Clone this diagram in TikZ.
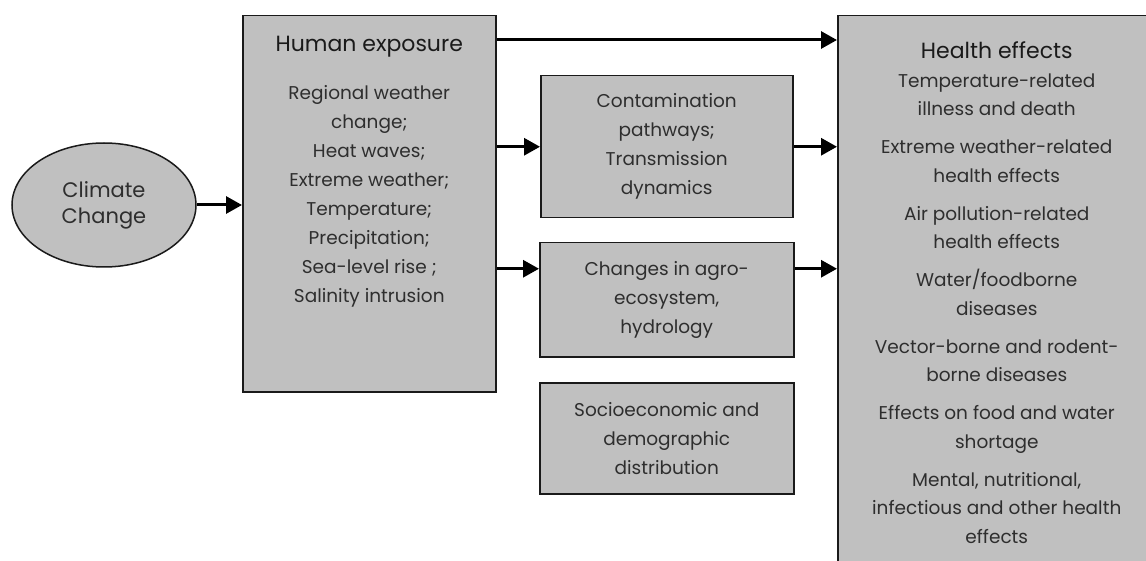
\documentclass[tikz,border=0pt]{standalone}
\usepackage{fontspec}
\setmainfont{Poppins}
\usetikzlibrary{arrows.meta,positioning,shapes.geometric}
\definecolor{ink}{HTML}{1A1A1A}
\definecolor{boxgray}{HTML}{C0C0C0}
\definecolor{textgray}{HTML}{2E2E2E}
\tikzset{
  every node/.style={text=textgray},
  box/.style={draw=ink, line width=1.5pt, fill=boxgray, align=center, inner sep=0pt, font=\fontsize{18.5}{29}\selectfont},
  oval/.style={box, ellipse, minimum width=184pt, minimum height=124pt, font=\fontsize{21}{26}\selectfont},
  boxtext/.style={align=center, inner sep=0pt, font=\fontsize{18.5}{29}\selectfont},
  arrow/.style={-{Triangle[length=16pt,width=17pt]}, line width=3pt, draw=black},
}
\begin{document}
\begin{tikzpicture}[x=1pt, y=-1pt]
\useasboundingbox[fill=white] (0,0) rectangle (1146,561);
% nodes
\node[oval] (cc) at (104,205) {Climate\\Change};
\node[box, anchor=north west, minimum width=253pt, minimum height=376pt] (hum) at (242,15) {};
\node[boxtext, anchor=north] (humtxt) at ([yshift=-21pt]hum.north) {{\fontsize{22}{26}\selectfont\color{ink}Human exposure}\\[19pt]
  Regional weather\\change;\\Heat waves;\\Extreme weather;\\Temperature;\\Precipitation;\\Sea-level rise ;\\Salinity intrusion};
\node[box, anchor=north west, minimum width=252pt, minimum height=142pt] (con) at (540,75) {Contamination\\pathways;\\Transmission\\dynamics};
\node[box, anchor=north west, minimum width=254pt, minimum height=114pt] (chg) at (539,242) {Changes in agro-\\ecosystem,\\hydrology};
\node[box, anchor=north west, minimum width=254pt, minimum height=111pt] (soc) at (539,382) {Socioeconomic and\\demographic\\distribution};
\node[box, anchor=north west, minimum width=318pt, minimum height=554pt, font=\fontsize{18.5}{28.5}\selectfont] (hl) at (837,15) {{\fontsize{22}{26}\selectfont\color{ink}Health effects}\\[0pt]
  Temperature-related\\illness and death\\[9.5pt]
  Extreme weather-related\\health effects\\[9.5pt]
  Air pollution-related\\health effects\\[9.5pt]
  Water/foodborne\\diseases\\[9.5pt]
  Vector-borne and rodent-\\borne diseases\\[9.5pt]
  Effects on food and water\\shortage\\[9.5pt]
  Mental, nutritional,\\infectious and other health\\effects};
% connectors
\coordinate (top) at ([yshift=-25pt]hum.north east);
\coordinate (mid) at ([yshift=31pt]chg.west);
\draw[arrow] (cc.east) -- (cc.east -| hum.west);
\draw[arrow] (top) -- (top -| hl.west);
\draw[arrow] (hum.east |- con.west) -- (con.west);
\draw[arrow] (con.east) -- (con.east -| hl.west);
\draw[arrow] (hum.east |- mid) -- (mid);
\draw[arrow] (mid -| chg.east) -- (mid -| hl.west);
\end{tikzpicture}
\end{document}
